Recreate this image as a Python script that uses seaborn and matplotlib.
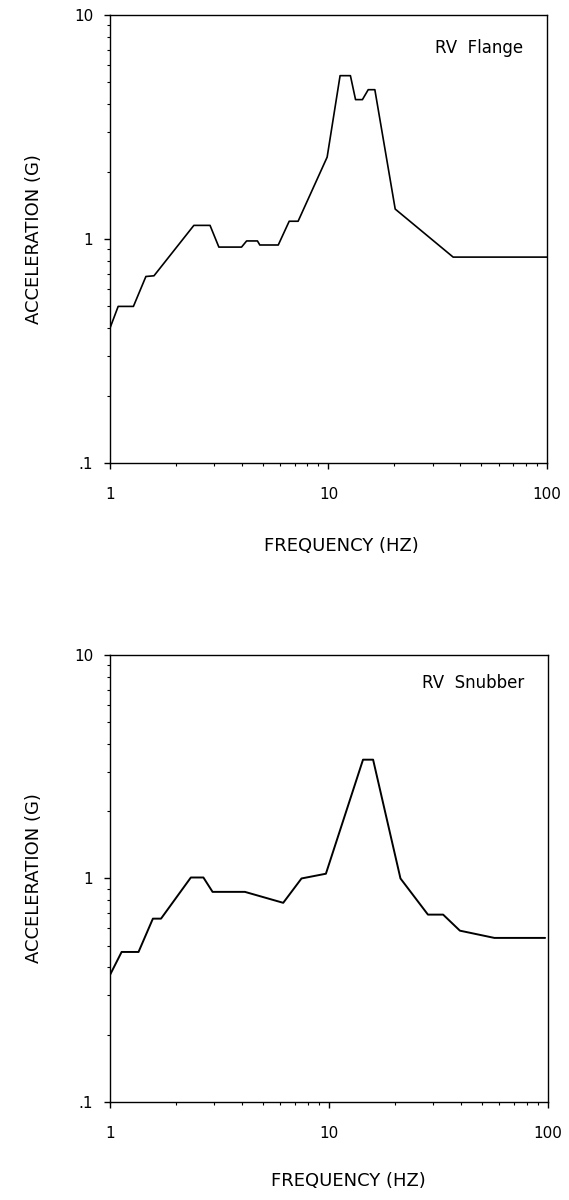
# two response spectra, log-log
import matplotlib
matplotlib.use("Agg")
import matplotlib.pyplot as plt
import matplotlib.ticker as mticker
import seaborn as sns
import pandas as pd

sns.set_style("ticks")
plt.rcParams['font.family'] = ['DejaVu Sans']
plt.rcParams['text.color'] = 'black'
plt.rcParams['axes.labelcolor'] = 'black'
plt.rcParams['xtick.color'] = 'black'
plt.rcParams['ytick.color'] = 'black'

# RV Flange
flange_freq = [1.0, 1.09, 1.28, 1.46, 1.59, 2.42, 2.87, 3.15, 4.0, 4.22, 4.73, 4.85,
               5.89, 6.61, 7.26, 9.86, 11.3, 12.6, 13.3, 14.3, 15.2, 16.3, 20.2, 37.2, 100]
flange_acc = [0.40, 0.50, 0.50, 0.68, 0.685, 1.15, 1.15, 0.92, 0.92, 0.98, 0.98, 0.94,
              0.94, 1.2, 1.2, 2.32, 5.36, 5.36, 4.19, 4.19, 4.64, 4.64, 1.36, 0.83, 0.83]

# RV Snubber
snubber_freq = [1.0, 1.13, 1.35, 1.57, 1.71, 2.34, 2.67, 2.94, 4.13, 6.18, 7.49, 9.68,
                14.3, 15.9, 21.2, 28.3, 33.2, 39.6, 56.9, 97]
snubber_acc = [0.37, 0.469, 0.469, 0.661, 0.661, 1.01, 1.01, 0.871, 0.871, 0.778, 1.0, 1.05,
               3.40, 3.40, 1.0, 0.689, 0.689, 0.584, 0.542, 0.542]

x_ticks = [1, 10, 100]
x_ticklabels = ["1", "10", "100"]
y_ticks = [0.1, 1, 10]
y_ticklabels = [".1", "1", "10"]

fig = plt.figure(figsize=(5.69, 12), dpi=100)
ax_top = fig.add_axes([0.1933, 0.6142, 0.768, 0.3733])
ax_bot = fig.add_axes([0.1933, 0.0817, 0.7698, 0.3725])

panels = [
    (ax_top, flange_freq, flange_acc, "RV  Flange", 1.2, 0.926, 0.53, -0.166),
    (ax_bot, snubber_freq, snubber_acc, "RV  Snubber", 1.4, 0.937, 0.545, -0.157),
]

for ax, f, a, name, lw, ty, xlx, xly in panels:
    df = pd.DataFrame({"freq": f, "acc": a})
    sns.lineplot(data=df, x="freq", y="acc", ax=ax, color="black", linewidth=lw,
                 sort=False, estimator=None)
    ax.set_xscale("log")
    ax.set_yscale("log")
    ax.set_xlim(1, 100)
    ax.set_ylim(0.1, 10)
    ax.set_xticks(x_ticks)
    ax.set_xticklabels(x_ticklabels)
    ax.set_yticks(y_ticks)
    ax.set_yticklabels(y_ticklabels)
    ax.xaxis.set_minor_locator(mticker.LogLocator(base=10, subs=range(2, 10)))
    ax.yaxis.set_minor_locator(mticker.LogLocator(base=10, subs=range(2, 10)))
    ax.xaxis.set_minor_formatter(mticker.NullFormatter())
    ax.yaxis.set_minor_formatter(mticker.NullFormatter())
    ax.tick_params(which="major", direction="out", length=4, width=1, labelsize=11)
    ax.tick_params(which="minor", direction="out", length=2, width=0.8)
    ax.tick_params(axis="x", which="major", pad=13)
    ax.tick_params(axis="y", which="major", pad=8)
    for s in ax.spines.values():
        s.set_linewidth(1.0)
        s.set_color("black")
    ax.set_xlabel("FREQUENCY (HZ)", fontsize=13)
    ax.set_ylabel("ACCELERATION (G)", fontsize=13)
    ax.xaxis.set_label_coords(xlx, xly)
    ax.yaxis.set_label_coords(-0.153, 0.5)
    ax.text(0.945, ty, name, transform=ax.transAxes, ha="right", va="center", fontsize=12)

fig.savefig("out.png", dpi=100)
